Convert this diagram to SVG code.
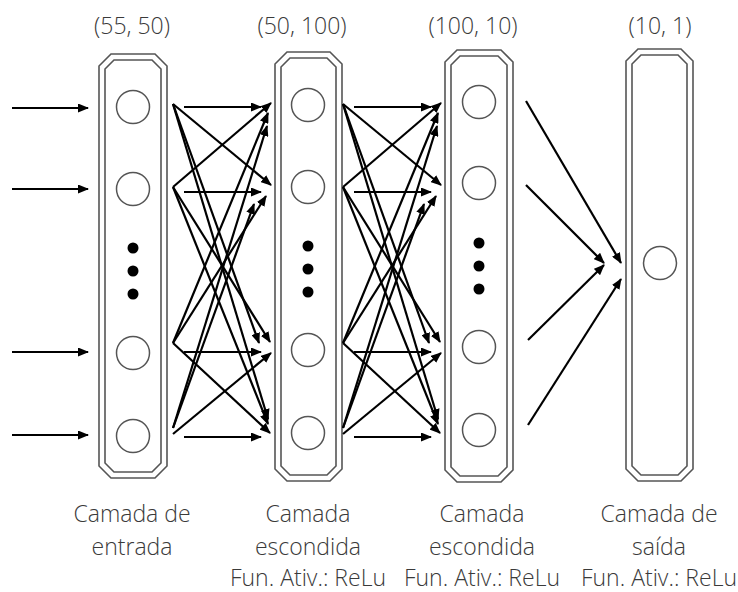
<svg xmlns="http://www.w3.org/2000/svg" width="738" height="592" viewBox="0 0 738 592">
  <style>
    .frame { fill: none; stroke: #555; stroke-width: 1.6; }
    .unit { fill: #fff; stroke: #555; stroke-width: 1.5; }
    .dot { fill: #000; }
    .edge { stroke: #000; stroke-width: 2.2; fill: none; marker-end: url(#ah); }
    .lbl { font-family: "Open Sans", "Liberation Sans", sans-serif; font-weight: 300; font-size: 23px; fill: #3a3a3a; text-anchor: middle; }
  </style>
  <defs>
    <marker id="ah" markerWidth="11" markerHeight="9" refX="10" refY="4.5" orient="auto" markerUnits="userSpaceOnUse">
      <path d="M0,0 L11,4.5 L0,9 z" fill="#000"/>
    </marker>
  </defs>
  <rect width="738" height="592" fill="#fff"/>

  <!-- shape labels -->
  <g id="shapes">
    <text class="lbl" x="132" y="34">(55, 50)</text>
    <text class="lbl" x="302" y="34">(50, 100)</text>
    <text class="lbl" x="473" y="34">(100, 10)</text>
    <text class="lbl" x="660" y="34">(10, 1)</text>
  </g>

  <!-- input layer -->
  <g id="layer-input">
    <polygon class="frame" points="111,54 155,54 167,66 167,466 155,478 111,478 99,466 99,66"/>
    <polygon class="frame" points="114,60 152,60 161,69 161,463 152,472 114,472 105,463 105,69"/>
    <circle class="unit" cx="133" cy="107" r="16.5"/>
    <circle class="unit" cx="133" cy="189" r="16.5"/>
    <circle class="dot" cx="133" cy="248" r="5.5"/>
    <circle class="dot" cx="133" cy="271" r="5.5"/>
    <circle class="dot" cx="133" cy="294" r="5.5"/>
    <circle class="unit" cx="133" cy="353" r="16.5"/>
    <circle class="unit" cx="133" cy="436" r="16.5"/>
  </g>

  <!-- first hidden layer -->
  <g id="layer-hidden-1">
    <polygon class="frame" points="287,52 330,52 342,64 342,469 330,481 287,481 275,469 275,64"/>
    <polygon class="frame" points="290,58 327,58 336,67 336,466 327,475 290,475 281,466 281,67"/>
    <circle class="unit" cx="308" cy="105" r="16.5"/>
    <circle class="unit" cx="308" cy="187" r="16.5"/>
    <circle class="dot" cx="308" cy="246" r="5.5"/>
    <circle class="dot" cx="308" cy="269" r="5.5"/>
    <circle class="dot" cx="308" cy="292" r="5.5"/>
    <circle class="unit" cx="308" cy="350" r="16.5"/>
    <circle class="unit" cx="308" cy="433" r="16.5"/>
  </g>

  <!-- second hidden layer -->
  <g id="layer-hidden-2">
    <polygon class="frame" points="457,50 501,50 513,62 513,470 501,482 457,482 445,470 445,62"/>
    <polygon class="frame" points="460,56 498,56 507,65 507,467 498,476 460,476 451,467 451,65"/>
    <circle class="unit" cx="479" cy="102" r="16.5"/>
    <circle class="unit" cx="479" cy="183" r="16.5"/>
    <circle class="dot" cx="479" cy="243" r="5.5"/>
    <circle class="dot" cx="479" cy="266" r="5.5"/>
    <circle class="dot" cx="479" cy="289" r="5.5"/>
    <circle class="unit" cx="479" cy="347" r="16.5"/>
    <circle class="unit" cx="479" cy="430" r="16.5"/>
  </g>

  <!-- output layer -->
  <g id="layer-output">
    <polygon class="frame" points="638,49 681,49 693,61 693,469 681,481 638,481 626,469 626,61"/>
    <polygon class="frame" points="641,55 678,55 687,64 687,466 678,475 641,475 632,466 632,64"/>
    <circle class="unit" cx="660" cy="263" r="16.5"/>
  </g>

  <!-- connectors -->
  <g id="connectors">
    <!-- inputs -->
    <line class="edge" x1="12" y1="108" x2="88" y2="108"/>
    <line class="edge" x1="12" y1="189" x2="88" y2="189"/>
    <line class="edge" x1="12" y1="352" x2="88" y2="352"/>
    <line class="edge" x1="12" y1="435" x2="88" y2="435"/>

    <!-- input layer to first hidden layer -->
    <line class="edge" x1="184" y1="107" x2="261" y2="107"/>
    <line class="edge" x1="184" y1="192" x2="261" y2="192"/>
    <line class="edge" x1="184" y1="352" x2="261" y2="352"/>
    <line class="edge" x1="184" y1="437" x2="261" y2="437"/>
    <line class="edge" x1="173" y1="104" x2="271" y2="185"/>
    <line class="edge" x1="173" y1="104" x2="259" y2="343"/>
    <line class="edge" x1="173" y1="104" x2="268" y2="419"/>
    <line class="edge" x1="173" y1="187" x2="271" y2="103"/>
    <line class="edge" x1="173" y1="187" x2="270" y2="342"/>
    <line class="edge" x1="173" y1="187" x2="268" y2="424"/>
    <line class="edge" x1="173" y1="343" x2="268" y2="113"/>
    <line class="edge" x1="173" y1="343" x2="266" y2="196"/>
    <line class="edge" x1="173" y1="343" x2="270" y2="433"/>
    <line class="edge" x1="173" y1="428" x2="267" y2="126"/>
    <line class="edge" x1="173" y1="428" x2="254" y2="204"/>
    <line class="edge" x1="173" y1="434" x2="271" y2="353"/>

    <!-- first hidden layer to second hidden layer -->
    <line class="edge" x1="354" y1="107" x2="431" y2="107"/>
    <line class="edge" x1="354" y1="192" x2="431" y2="192"/>
    <line class="edge" x1="354" y1="352" x2="431" y2="352"/>
    <line class="edge" x1="354" y1="437" x2="431" y2="437"/>
    <line class="edge" x1="343" y1="104" x2="441" y2="185"/>
    <line class="edge" x1="343" y1="104" x2="429" y2="343"/>
    <line class="edge" x1="343" y1="104" x2="438" y2="419"/>
    <line class="edge" x1="343" y1="187" x2="441" y2="103"/>
    <line class="edge" x1="343" y1="187" x2="440" y2="342"/>
    <line class="edge" x1="343" y1="187" x2="438" y2="424"/>
    <line class="edge" x1="343" y1="343" x2="438" y2="113"/>
    <line class="edge" x1="343" y1="343" x2="436" y2="196"/>
    <line class="edge" x1="343" y1="343" x2="440" y2="433"/>
    <line class="edge" x1="343" y1="428" x2="437" y2="126"/>
    <line class="edge" x1="343" y1="428" x2="424" y2="204"/>
    <line class="edge" x1="343" y1="434" x2="441" y2="353"/>

    <!-- second hidden layer to output -->
    <line class="edge" x1="526" y1="101" x2="621" y2="263"/>
    <line class="edge" x1="526" y1="185" x2="604" y2="263"/>
    <line class="edge" x1="528" y1="340" x2="604" y2="265"/>
    <line class="edge" x1="528" y1="425" x2="621" y2="279"/>
  </g>

  <!-- layer captions -->
  <g id="captions">
    <text class="lbl" x="132" y="522">Camada de</text>
    <text class="lbl" x="132" y="555">entrada</text>
    <text class="lbl" x="308" y="522">Camada</text>
    <text class="lbl" x="308" y="555">escondida</text>
    <text class="lbl" x="308" y="586">Fun. Ativ.: ReLu</text>
    <text class="lbl" x="482" y="522">Camada</text>
    <text class="lbl" x="482" y="555">escondida</text>
    <text class="lbl" x="482" y="586">Fun. Ativ.: ReLu</text>
    <text class="lbl" x="659" y="522">Camada de</text>
    <text class="lbl" x="659" y="555">saída</text>
    <text class="lbl" x="659" y="586">Fun. Ativ.: ReLu</text>
  </g>
</svg>
